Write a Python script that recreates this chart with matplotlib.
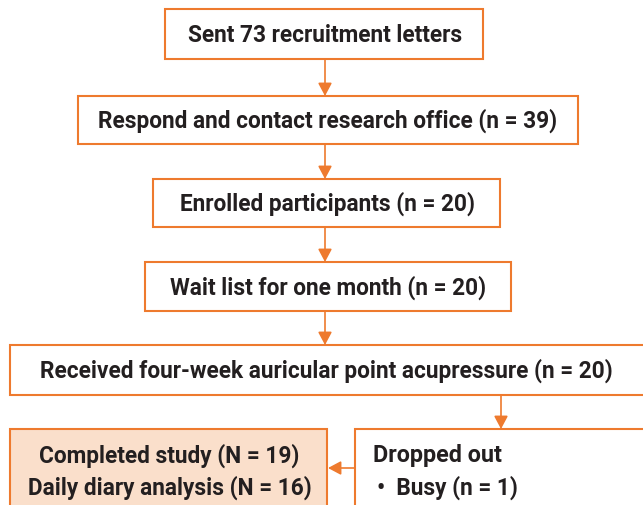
import matplotlib
matplotlib.use("Agg")
import matplotlib.pyplot as plt
from matplotlib.patches import Rectangle, FancyArrowPatch

# ---- content ----
step_labels = [
    "Sent 73 recruitment letters",
    "Respond and contact research office (n = 39)",
    "Enrolled participants (n = 20)",
    "Wait list for one month (n = 20)",
    "Received four-week auricular point acupressure (n = 20)",
]
completed_lines = ["Completed study (N = 19)", "Daily diary analysis (N = 16)"]
dropout_title = "Dropped out"
dropout_items = ["Busy (n = 1)"]

# ---- layout (pixel coordinates) ----
step_boxes = [  # x0, y0, x1, y1
    (165, 10, 483, 60),
    (78, 97, 578, 145),
    (153, 180, 500, 228),
    (145, 263, 511, 312),
    (10, 346, 660, 396),
]
text_cx = [325, 328, 327, 328, 326]
completed_box = (10, 430, 327, 540)
dropout_box = (355, 430, 660, 540)

ORANGE = "#EE7A2E"
FILL = "#FADFCB"
TEXT = "#231F20"

plt.rcParams["font.family"] = ["Roboto", "DejaVu Sans"]

fig = plt.figure(figsize=(6.43, 5.06), dpi=100)
ax = fig.add_axes([0, 0, 1, 1])
ax.set_xlim(0, 643)
ax.set_ylim(506, 0)
ax.axis("off")

FS = 16.3
FW = "bold"

def box(b, fc="white"):
    x0, y0, x1, y1 = b
    ax.add_patch(Rectangle((x0, y0), x1 - x0, y1 - y0, facecolor=fc,
                           edgecolor=ORANGE, linewidth=1.5))

def arrow(p0, p1):
    ax.add_patch(FancyArrowPatch(p0, p1, arrowstyle="-|>,head_length=6,head_width=3.2",
                                 mutation_scale=1.3, color=ORANGE, linewidth=1.2,
                                 shrinkA=0, shrinkB=0))

for b, lab, cx in zip(step_boxes, step_labels, text_cx):
    box(b)
    cy = (b[1] + b[3]) / 2
    ax.text(cx, cy, lab, ha="center", va="center", fontsize=FS,
            fontweight=FW, color=TEXT)

for a, b in zip(step_boxes[:-1], step_boxes[1:]):
    arrow((325, a[3]), (325, b[1]))

box(completed_box, FILL)
box(dropout_box)

arrow((501, step_boxes[-1][3]), (501, dropout_box[1]))
arrow((dropout_box[0], 469), (completed_box[2] + 1, 469))

ccx = (completed_box[0] + completed_box[2]) / 2 + 1
ax.text(ccx, 456, completed_lines[0], ha="center", va="center",
        fontsize=FS, fontweight=FW, color=TEXT)
ax.text(ccx, 488, completed_lines[1], ha="center", va="center",
        fontsize=FS, fontweight=FW, color=TEXT)

ax.text(373, 456, dropout_title, ha="left", va="center", fontsize=FS + 0.5,
        fontweight=FW, color=TEXT)
for i, it in enumerate(dropout_items):
    ax.text(377, 488 + 30 * i, "\u2022  " + it, ha="left", va="center",
            fontsize=FS, fontweight=FW, color=TEXT)

fig.savefig("out.png", dpi=100)
